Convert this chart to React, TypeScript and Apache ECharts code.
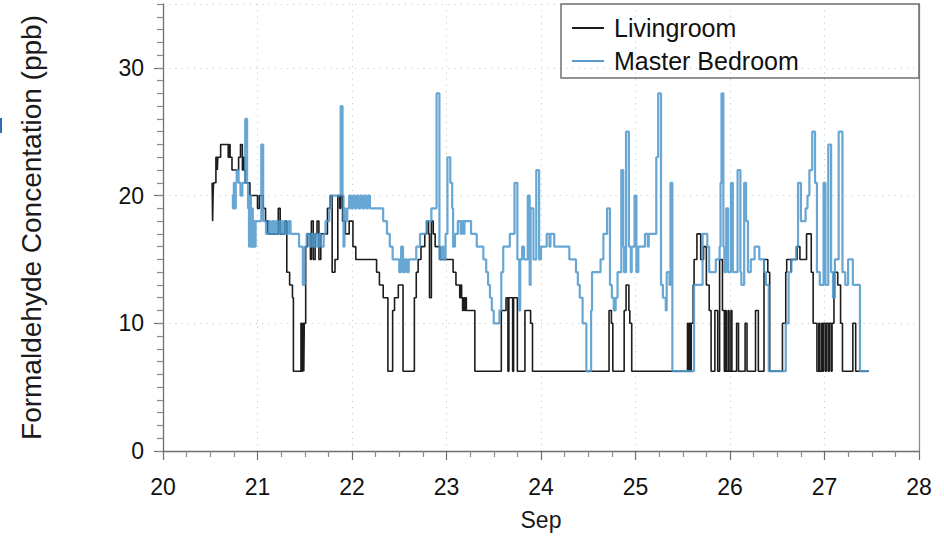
import React, { useEffect, useRef } from "react";
import * as echarts from "echarts";

// Formaldehyde readings, [day of September, ppb]; each value holds until the next reading.
const FLOOR = 6.25; // lowest reported level

const livingroom: [number, number][] = [
  [20.52, 21], [20.525, 18], [20.53, 20], [20.535, 21], [20.56, 23], [20.575, 22], [20.58, 23],
  [20.61, 24], [20.69, 23], [20.7, 24], [20.71, 23], [20.73, 22], [20.8, 23], [20.82, 24],
  [20.84, 22], [20.85, 23], [20.86, 22], [20.87, 21], [20.92, 20], [21.0, 19], [21.02, 20],
  [21.06, 19], [21.085, 18], [21.11, 17], [21.22, 19], [21.24, 17], [21.29, 18], [21.31, 14],
  [21.34, 13], [21.37, 12], [21.38, FLOOR], [21.46, 10], [21.47, FLOOR], [21.48, 10],
  [21.49, FLOOR], [21.495, 10], [21.51, 16], [21.53, 17], [21.56, 15], [21.57, 18], [21.59, 15],
  [21.61, 17], [21.63, 18], [21.65, 15], [21.67, 17], [21.74, 19], [21.77, 20], [21.79, 14],
  [21.82, 15], [21.85, 20], [21.87, 19], [21.88, 20], [21.9, 18], [21.93, 17], [21.97, 18],
  [22.01, 16], [22.04, 15], [22.26, 14], [22.29, 13], [22.33, 12], [22.38, FLOOR], [22.43, 11],
  [22.45, 12], [22.49, 13], [22.54, FLOOR], [22.66, 12], [22.68, 14], [22.7, 15], [22.73, 16],
  [22.77, 17], [22.79, 18], [22.81, 17], [22.82, 12], [22.84, 18], [22.86, 17], [22.88, 16],
  [22.93, 15], [23.07, 14], [23.1, 13], [23.14, 12], [23.15, 13], [23.16, 12], [23.17, 11],
  [23.18, 12], [23.19, 11], [23.2, 12], [23.21, 11], [23.3, FLOOR], [23.58, 11], [23.63, 12],
  [23.65, FLOOR], [23.66, 12], [23.7, FLOOR], [23.71, 12], [23.75, FLOOR], [23.83, 11],
  [23.89, 10], [23.91, FLOOR], [24.72, 11], [24.745, 10], [24.76, FLOOR], [24.88, 11],
  [24.9, 13], [24.93, 11], [24.94, 10], [24.96, FLOOR], [25.55, 10], [25.56, FLOOR], [25.57, 10],
  [25.58, FLOOR], [25.59, 10], [25.61, 13], [25.62, 15], [25.65, 17], [25.69, 15], [25.72, 16],
  [25.75, 13], [25.78, 11], [25.8, FLOOR], [25.84, 11], [25.87, FLOOR], [25.89, 15], [25.92, 11],
  [25.94, FLOOR], [25.95, 11], [25.96, FLOOR], [25.98, 11], [25.99, FLOOR], [26.01, 11],
  [26.02, FLOOR], [26.07, 10], [26.09, FLOOR], [26.16, 10], [26.18, FLOOR], [26.27, 11],
  [26.3, FLOOR], [26.36, 15], [26.4, 14], [26.42, FLOOR], [26.555, 10], [26.59, 14], [26.6, 15],
  [26.645, 14], [26.65, 15], [26.71, 16], [26.74, 15], [26.81, 17], [26.86, 14], [26.88, 10],
  [26.92, FLOOR], [26.94, 10], [26.95, FLOOR], [26.97, 10], [26.98, FLOOR], [26.99, 10],
  [27.01, FLOOR], [27.02, 10], [27.04, FLOOR], [27.05, 10], [27.07, FLOOR], [27.08, 10],
  [27.1, 14], [27.14, 13], [27.17, 10], [27.19, FLOOR], [27.3, 10], [27.33, FLOOR], [27.47, FLOOR],
];

const masterBedroom: [number, number][] = [
  [20.73, 20], [20.74, 19], [20.75, 21], [20.76, 19], [20.77, 21], [20.78, 22], [20.8, 21],
  [20.82, 20], [20.84, 21], [20.87, 26], [20.89, 21], [20.9, 19], [20.91, 16], [20.92, 20],
  [20.93, 16], [20.94, 19], [20.95, 16], [20.96, 18], [20.97, 16], [20.98, 18], [21.04, 24],
  [21.06, 18], [21.09, 17], [21.12, 18], [21.14, 17], [21.16, 18], [21.18, 17], [21.2, 18],
  [21.22, 17], [21.24, 18], [21.26, 17], [21.28, 18], [21.3, 17], [21.33, 18], [21.35, 17],
  [21.44, 16], [21.48, 13], [21.5, 16], [21.52, 17], [21.55, 16], [21.57, 17], [21.59, 16],
  [21.61, 17], [21.63, 16], [21.65, 17], [21.67, 16], [21.7, 17], [21.72, 18], [21.76, 19],
  [21.78, 20], [21.88, 27], [21.9, 20], [21.91, 16], [21.92, 19], [21.93, 18], [21.95, 19],
  [21.97, 20], [21.99, 19], [22.01, 20], [22.03, 19], [22.05, 20], [22.07, 19], [22.09, 20],
  [22.11, 19], [22.13, 20], [22.15, 19], [22.17, 20], [22.19, 19], [22.33, 18], [22.37, 17],
  [22.4, 16], [22.43, 15], [22.5, 14], [22.52, 16], [22.54, 14], [22.56, 15], [22.58, 14],
  [22.6, 15], [22.68, 16], [22.72, 17], [22.79, 18], [22.84, 19], [22.895, 28], [22.925, 15],
  [22.95, 16], [22.97, 15], [22.99, 17], [23.01, 23], [23.04, 21], [23.06, 19], [23.07, 16],
  [23.09, 17], [23.12, 18], [23.15, 17], [23.16, 18], [23.18, 17], [23.19, 18], [23.26, 17],
  [23.32, 16], [23.39, 15], [23.42, 14], [23.44, 13], [23.46, 12], [23.48, 11], [23.5, 10],
  [23.56, 11], [23.58, 14], [23.6, 16], [23.67, 17], [23.72, 21], [23.75, 15], [23.77, 11],
  [23.78, 15], [23.8, 16], [23.82, 15], [23.86, 20], [23.88, 13], [23.89, 19], [23.92, 15],
  [23.95, 22], [23.98, 15], [24.0, 16], [24.06, 17], [24.09, 16], [24.1, 17], [24.14, 16],
  [24.3, 15], [24.37, 14], [24.39, 13], [24.41, 12], [24.44, 10], [24.48, FLOOR], [24.53, 11],
  [24.54, 14], [24.63, 15], [24.66, 17], [24.7, 19], [24.73, 13], [24.75, 12], [24.77, 11],
  [24.79, 12], [24.81, 14], [24.85, 22], [24.87, 16], [24.88, 14], [24.9, 25], [24.93, 16],
  [24.95, 14], [24.96, 16], [24.99, 20], [25.01, 14], [25.03, 16], [25.1, 17], [25.13, 16],
  [25.14, 17], [25.22, 23], [25.24, 28], [25.27, 13], [25.29, 12], [25.32, 11], [25.33, 14],
  [25.36, 13], [25.37, 21], [25.39, FLOOR], [25.62, 13], [25.71, 17], [25.76, 16], [25.78, 14],
  [25.85, 15], [25.89, 16], [25.9, 21], [25.91, 28], [25.93, 16], [25.94, 14], [25.96, 19],
  [25.98, 14], [26.01, 21], [26.03, 14], [26.08, 22], [26.11, 14], [26.12, 13], [26.15, 21],
  [26.17, 18], [26.19, 14], [26.22, 15], [26.26, 16], [26.31, 15], [26.36, 14], [26.38, 13],
  [26.41, FLOOR], [26.59, 10], [26.62, 14], [26.65, 15], [26.7, 16], [26.72, 21], [26.75, 18],
  [26.8, 19], [26.82, 20], [26.84, 22], [26.87, 25], [26.9, 21], [26.92, 14], [26.95, 13],
  [26.99, 21], [27.01, 13], [27.04, 24], [27.07, 14], [27.09, 12], [27.11, 15], [27.15, 25],
  [27.19, 14], [27.22, 13], [27.25, 15], [27.3, 13], [27.375, FLOOR], [27.47, FLOOR],
];

const DAY_MIN = 20;
const DAY_MAX = 28;
const PPB_MAX = 35;

const FONT = "'Liberation Sans', Arial, Helvetica, sans-serif";
const AXIS_GREY = "#6e6e6e";
const GRID_DOTS = { color: "#cccccc", width: 1, type: [1.2, 5] as number[] };

export default function App() {
  const ref = useRef<HTMLDivElement>(null);

  useEffect(() => {
    if (!ref.current) return;
    const chart = echarts.init(ref.current, undefined, { renderer: "svg" });

    chart.setOption({
      animation: false,
      backgroundColor: "#ffffff",
      textStyle: { fontFamily: FONT },
      grid: { left: 163, right: 25, top: 4, bottom: 83 },
      legend: {
        orient: "vertical",
        left: 567,
        top: 9,
        icon: "rect",
        itemWidth: 32,
        itemHeight: 2,
        itemGap: 5,
        textStyle: { fontSize: 25, color: "#111", fontFamily: FONT, lineHeight: 28, padding: [0, 0, 0, 5] },
        data: ["Livingroom", "Master Bedroom"],
      },
      graphic: [
        {
          type: "rect",
          shape: { x: 561, y: 4, width: 358, height: 74 },
          style: { fill: "none", stroke: "#707070", lineWidth: 1.5 },
          z: 10,
        },
        {
          type: "line",
          shape: { x1: 1, y1: 118, x2: 1, y2: 133 },
          style: { stroke: "#2f6db5", lineWidth: 2 },
        },
      ],
      xAxis: {
        type: "value",
        min: DAY_MIN,
        max: DAY_MAX,
        interval: 1,
        name: "Sep",
        nameLocation: "middle",
        nameGap: 57,
        nameTextStyle: { fontSize: 23, color: "#1a1a1a", fontFamily: FONT },
        axisLine: { lineStyle: { color: AXIS_GREY, width: 1.3 } },
        axisTick: { length: 9, lineStyle: { color: AXIS_GREY, width: 1.2 } },
        minorTick: { show: true, splitNumber: 4, length: 6, lineStyle: { color: "#8a8a8a", width: 1.2 } },
        axisLabel: { fontSize: 23, color: "#111", margin: 24, fontFamily: FONT },
        splitLine: { show: true, lineStyle: GRID_DOTS },
      },
      yAxis: [
        {
          type: "value",
          min: 0,
          max: PPB_MAX,
          interval: 10,
          position: "left",
          name: "Formaldehyde Concentation (ppb)",
          nameLocation: "middle",
          nameRotate: 90,
          nameGap: 118,
          nameTextStyle: { fontSize: 28, color: "#1a1a1a", fontFamily: FONT },
          axisLine: { show: true, lineStyle: { color: AXIS_GREY, width: 1.3 } },
          axisTick: { length: 9, lineStyle: { color: AXIS_GREY, width: 1.2 } },
          axisLabel: { fontSize: 23, color: "#111", margin: 19, showMaxLabel: false, fontFamily: FONT },
          splitLine: { show: true, lineStyle: GRID_DOTS },
        },
        {
          // unit minor ticks
          type: "value",
          min: 0,
          max: PPB_MAX,
          interval: 1,
          position: "left",
          axisLine: { show: false },
          axisTick: { length: 6, lineStyle: { color: "#8a8a8a", width: 1.2 } },
          axisLabel: { show: false },
          splitLine: { show: false },
        },
        {
          // right-hand frame edge
          type: "value",
          min: 0,
          max: PPB_MAX,
          position: "right",
          axisLine: { show: true, lineStyle: { color: "#8c8c8c", width: 1.3 } },
          axisTick: { show: false },
          axisLabel: { show: false },
          splitLine: { show: false },
        },
      ],
      series: [
        {
          name: "Livingroom",
          type: "line",
          step: "end",
          yAxisIndex: 0,
          showSymbol: false,
          color: "#1c1c1c",
          lineStyle: { color: "#1c1c1c", width: 1.6 },
          data: livingroom,
          z: 2,
        },
        {
          name: "Master Bedroom",
          type: "line",
          step: "end",
          yAxisIndex: 0,
          showSymbol: false,
          color: "#5a9bcc",
          lineStyle: { color: "#4e96cb", width: 2.2, opacity: 0.85 },
          data: masterBedroom,
          z: 3,
        },
      ],
    });

    return () => chart.dispose();
  }, []);

  return (
    <div
      ref={ref}
      style={{ position: "fixed", left: 0, top: 0, width: 944, height: 536, background: "#fff" }}
    />
  );
}
